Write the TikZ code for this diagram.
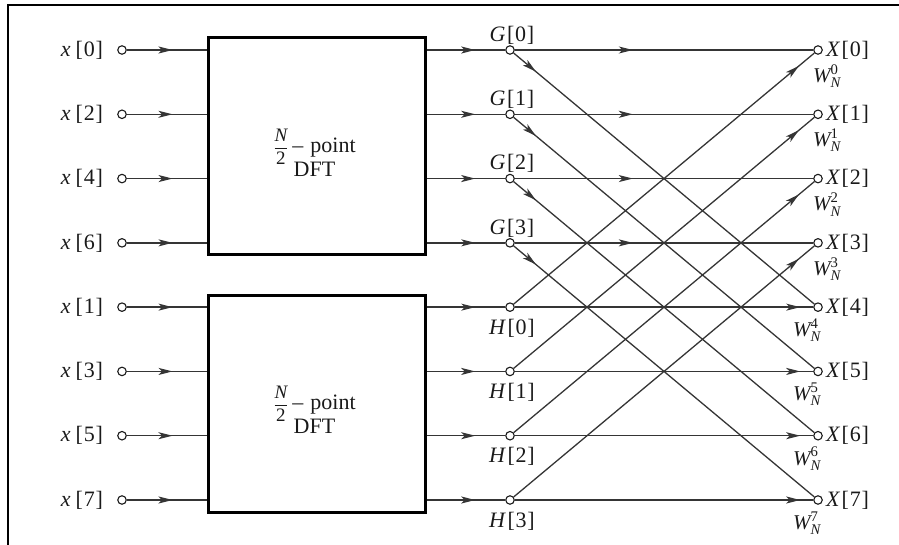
\documentclass[tikz,border=0pt]{standalone}
\usepackage{fontspec}
\usepackage{amsmath}
\setmainfont{Liberation Serif}
\usetikzlibrary{arrows.meta,decorations.markings}
\definecolor{ink}{HTML}{1A1A1A}
\definecolor{wire}{HTML}{353535}
% indexed signal name such as x[0]
\newcommand\sig[3][1.5pt]{\textit{#2}\kern#1[\kern0.8pt#3\kern0.8pt]}
\tikzset{
  lbl/.style={inner sep=0pt, text=ink, font=\fontsize{22}{24}\selectfont},
  twiddle/.style={inner sep=0pt, text=ink, font=\fontsize{21}{22}\selectfont},
  port/.style={circle, draw=ink, fill=white, line width=1.1pt, inner sep=0pt, minimum size=8.5pt},
  dftbox/.style={draw=black, line width=3pt, minimum width=217pt, minimum height=217pt, inner sep=0pt},
  dfttext/.style={align=center, inner sep=0pt, text=ink, font=\fontsize{22}{26}\selectfont},
  wirestyle/.style={draw=wire, line width=1.3pt},
  arrowat/.style={wirestyle, postaction={decorate},
    decoration={markings, mark=at position #1 with {\arrow{Stealth[length=14pt,width=7pt,inset=3.5pt]}}}},
}
\begin{document}
\begin{tikzpicture}[x=1pt,y=-1pt]
\useasboundingbox (0,0) rectangle (899,545);
% frame
\draw[line width=2pt, black] (899,5) -- (8,5) -- (8,545);

% two half-length DFT blocks
\node[dftbox] (dftA) at (316.5,146.5) {};
\node[dftbox] (dftB) at (316.5,403.5) {};
\foreach \b in {dftA,dftB}
  \node[dfttext] (\b-txt) at ([xshift=-2pt,yshift=-6pt]\b.center)
    {{\fontsize{19}{20}\selectfont$\dfrac{\textit{N}}{\text{2}}$}\kern4pt--\kern7pt point\\[-4pt]DFT};

% inputs (even samples to the upper block, odd to the lower)
\foreach \i/\k in {0/0,1/2,2/4,3/6,4/1,5/3,6/5,7/7} {
  \pgfmathsetmacro\yy{50+64.2857*\i}
  \node[port] (x\k) at (122,\yy) {};
  \node[lbl, anchor=east] (x\k-lbl) at ([xshift=-14pt]x\k.west) {\sig[5pt]{x}{\k}};
}
\foreach \k in {0,2,4,6} \draw[arrowat=-34pt] (x\k) -- (x\k -| dftA.west);
\foreach \k in {1,3,5,7} \draw[arrowat=-34pt] (x\k) -- (x\k -| dftB.west);

% intermediate nodes G[k], H[k]
\foreach \i in {0,...,3} {
  \pgfmathsetmacro\yg{50+64.2857*\i}
  \pgfmathsetmacro\yh{50+64.2857*(\i+4)}
  \node[port] (G\i) at (510,\yg) {};
  \node[port] (H\i) at (510,\yh) {};
  \node[lbl] (G\i-lbl) at ([xshift=2pt,yshift=15pt]G\i) {\sig{G}{\i}};
  \node[lbl] (H\i-lbl) at ([xshift=2pt,yshift=-21pt]H\i) {\sig{H}{\i}};
}

% outputs X[k] with twiddle factors
\foreach \i in {0,...,7} {
  \pgfmathsetmacro\yx{50+64.2857*\i}
  \node[port] (X\i) at (818,\yx) {};
  \node[lbl, anchor=west] (X\i-lbl) at ([xshift=3pt]X\i.east) {\sig{X}{\i}};
}
\foreach \i in {0,...,3}
  \node[twiddle] (W\i) at ([xshift=9pt,yshift=-26pt]X\i) {$\textit{W}^{\text{\i}}_{\textit{N}}$};
\foreach \i in {4,...,7}
  \node[twiddle] (W\i) at ([xshift=-11pt,yshift=-23pt]X\i) {$\textit{W}^{\text{\i}}_{\textit{N}}$};

% butterfly wiring
\foreach \i in {0,...,3} {
  \pgfmathtruncatemacro\j{\i+4}
  \draw[arrowat=-30pt] (G\i -| dftA.east) -- (G\i);
  \draw[arrowat=-30pt] (H\i -| dftB.east) -- (H\i);
  \draw[arrowat=118pt] (G\i) -- (X\i);
  \draw[arrowat=29pt] (G\i) -- (X\j);
  \draw[arrowat=-13pt] (H\i) -- (X\j);
  \draw[arrowat=-20pt] (H\i) -- (X\i);
}
\end{tikzpicture}
\end{document}
